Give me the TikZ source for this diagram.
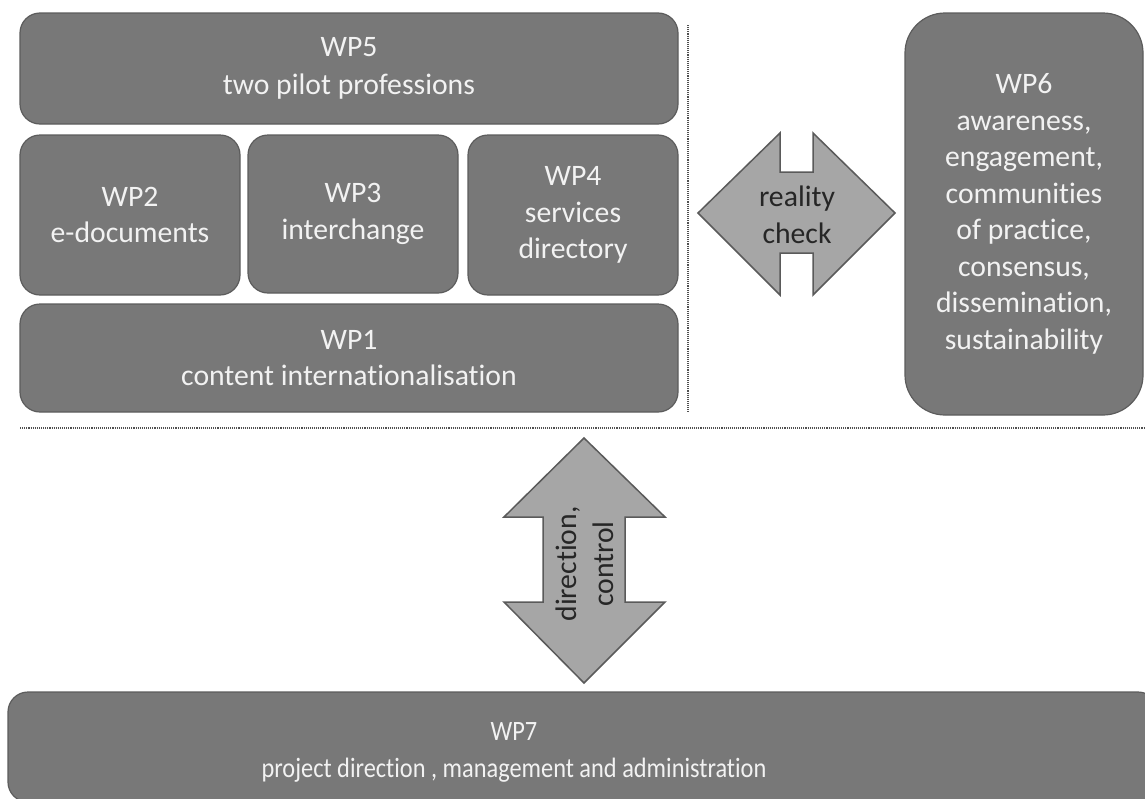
\documentclass[tikz,border=0pt]{standalone}
\usepackage{fontspec}
\setmainfont{Carlito}[Ligatures={NoCommon,NoRequired,NoContextual}]
\newfontfamily\condfont{Carlito}[FakeStretch=0.87, Ligatures={NoCommon,NoRequired,NoContextual}]
\definecolor{boxfill}{HTML}{787878}
\definecolor{boxline}{HTML}{5C5C5C}
\definecolor{arrfill}{HTML}{A6A6A6}
\definecolor{arrline}{HTML}{5A5A5A}
\definecolor{boxtext}{HTML}{F2F2F2}
\definecolor{arrtext}{HTML}{262626}
\definecolor{sepline}{HTML}{505050}
\newcommand{\wpfont}{\fontsize{29.7}{36.5}\selectfont}
\newcommand{\wpcondfont}{\condfont\fontsize{28}{37}\selectfont}
\tikzset{
  wpbox/.style={draw=boxline, fill=boxfill, line width=1.2pt, rounded corners=20pt,
    text=boxtext, align=center, font=\wpfont, inner sep=0pt},
  wptext/.style={text=boxtext, align=center, font=\wpfont, inner sep=0pt},
  arrowshape/.style={draw=arrline, fill=arrfill, line width=1.5pt, line join=miter},
  arrowlabel/.style={text=arrtext, align=center, font=\wpfont, inner sep=0pt},
  sepstyle/.style={draw=sepline, line width=1.1pt, densely dotted}
}
\begin{document}
\begin{tikzpicture}[x=1pt,y=-1pt]
\useasboundingbox (0,0) rectangle (1145,798);
% separators
\coordinate (vtop) at (688,25);
\coordinate (vbot) at (688,412);
\coordinate (hleft) at (20,428);
\coordinate (hright) at (1145,428);
\draw[sepstyle] (vtop) -- (vbot);
\draw[sepstyle] (hleft) -- (hright);
% boxes
\node[wpbox, minimum width=658pt, minimum height=111pt] (wp5) at (349,68.5) {WP5\\[1.5pt]two pilot professions};
\node[wpbox, minimum width=220pt, minimum height=160pt] (wp2) at (130,215) {WP2\\e-documents};
\node[wpbox, minimum width=210pt, minimum height=158pt] (wp3) at (353,214) {WP3\\interchange};
\node[wpbox, minimum width=210pt, minimum height=160pt] (wp4) at (573,215) {WP4\\services\\directory};
\node[wpbox, minimum width=658pt, minimum height=108pt] (wp1) at (349,358) {WP1\\content internationalisation};
\node[wpbox, rounded corners=40pt, minimum width=238pt, minimum height=402pt] (wp6) at (1024,214)
  {WP6\\awareness,\\engagement,\\communities\\of practice,\\consensus,\\dissemination,\\sustainability};
\node[wpbox, minimum width=1150pt, minimum height=110pt] (wp7) at (583,747) {};
\node[wptext, font=\wpcondfont] (wp7text) at (514,752)
  {WP7\\project direction , management and administration};
% reality check arrow
\draw[arrowshape] (698,213) -- (780,133) -- (780,172) -- (813,172) -- (813,133) -- (895,213)
  -- (813,295) -- (813,253) -- (780,253) -- (780,295) -- cycle;
\node[arrowlabel] (rc) at (797,215) {reality\\check};
% direction arrow
\draw[arrowshape] (584,438) -- (665,517) -- (625,517) -- (625,602) -- (665,602) -- (584,683)
  -- (504,602) -- (543,602) -- (543,517) -- (504,517) -- cycle;
\node[arrowlabel, rotate=90] (dc) at (585,564) {direction,\\control};
\end{tikzpicture}
\end{document}
